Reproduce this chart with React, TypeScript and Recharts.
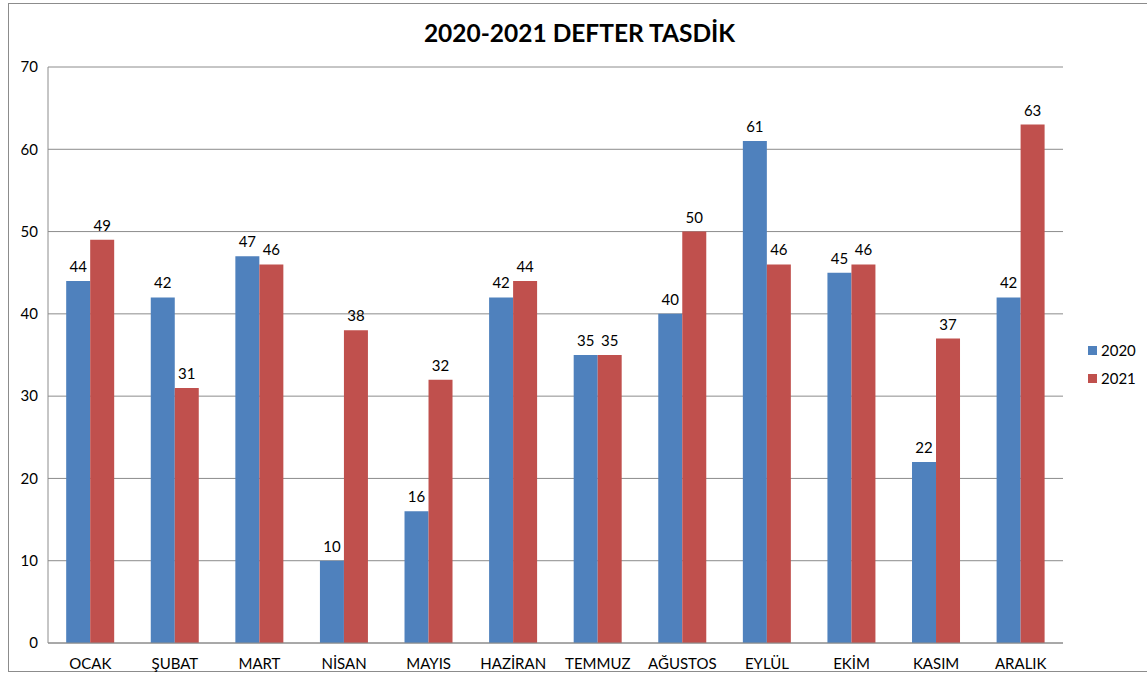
import { BarChart, Bar, XAxis, YAxis, CartesianGrid, Legend, LabelList } from "recharts";

const months = ["OCAK", "ŞUBAT", "MART", "NİSAN", "MAYIS", "HAZİRAN", "TEMMUZ", "AĞUSTOS", "EYLÜL", "EKİM", "KASIM", "ARALIK"];
const values2020 = [44, 42, 47, 10, 16, 42, 35, 40, 61, 45, 22, 42];
const values2021 = [49, 31, 46, 38, 32, 44, 35, 50, 46, 46, 37, 63];
const yTicks = [0, 10, 20, 30, 40, 50, 60, 70];

const data = months.map((m, i) => ({
  month: m,
  y2020: values2020[i],
  y2021: values2021[i],
}));

const FONT = "Lato, 'Open Sans', sans-serif";

function LegendBox({ payload }: any) {
  return (
    <div style={{ fontFamily: FONT, fontSize: 15, color: "#000" }}>
      {(payload || []).map((p: any) => (
        <div key={p.value} style={{ display: "flex", alignItems: "center", height: 28 }}>
          <span style={{ width: 9, height: 9, background: p.color, display: "inline-block", marginRight: 4 }} />
          {p.value}
        </div>
      ))}
    </div>
  );
}

export default function App() {
  return (
    <div style={{ position: "absolute", left: 0, top: 0, width: 1147, height: 682, background: "#fff" }}>
      <div
        style={{
          position: "absolute",
          left: 8,
          top: 3,
          width: 1145,
          height: 669,
          border: "1px solid #8c8c8c",
          boxSizing: "border-box",
        }}
      />
      <div
        style={{
          position: "absolute",
          left: 10,
          width: 1139,
          top: 18,
          textAlign: "center",
          fontFamily: FONT,
          fontWeight: 700,
          fontSize: 24.5,
          color: "#000",
        }}
      >
        2020-2021 DEFTER TASDİK
      </div>
      <div style={{ position: "absolute", left: 0, top: 0 }}>
        <BarChart
          width={1147}
          height={682}
          data={data}
          margin={{ top: 67, right: 24, left: 16, bottom: 9 }}
          barCategoryGap="21.5%"
          barGap={0}
        >
          <CartesianGrid vertical={false} stroke="#8c8c8c" strokeWidth={1} />
          <XAxis
            dataKey="month"
            height={30}
            axisLine={{ stroke: "#8c8c8c" }}
            tickLine={false}
            tickMargin={9}
            tick={{ fill: "#000", fontSize: 15, fontFamily: FONT }}
            interval={0}
          />
          <YAxis
            domain={[0, 70]}
            ticks={yTicks}
            width={32}
            axisLine={{ stroke: "#8c8c8c" }}
            tickLine={false}
            tickMargin={4}
            tick={{ fill: "#000", fontSize: 15, fontFamily: FONT }}
          />
          <Legend
            layout="vertical"
            align="right"
            verticalAlign="middle"
            content={<LegendBox />}
            wrapperStyle={{ left: 1088, top: 336, width: 60, right: "auto" }}
          />
          <Bar dataKey="y2020" name="2020" fill="#4F81BD" isAnimationActive={false}>
            <LabelList dataKey="y2020" position="top" offset={9} fill="#000" fontSize={15} fontFamily={FONT} />
          </Bar>
          <Bar dataKey="y2021" name="2021" fill="#C0504D" isAnimationActive={false}>
            <LabelList dataKey="y2021" position="top" offset={9} fill="#000" fontSize={15} fontFamily={FONT} />
          </Bar>
        </BarChart>
      </div>
    </div>
  );
}
